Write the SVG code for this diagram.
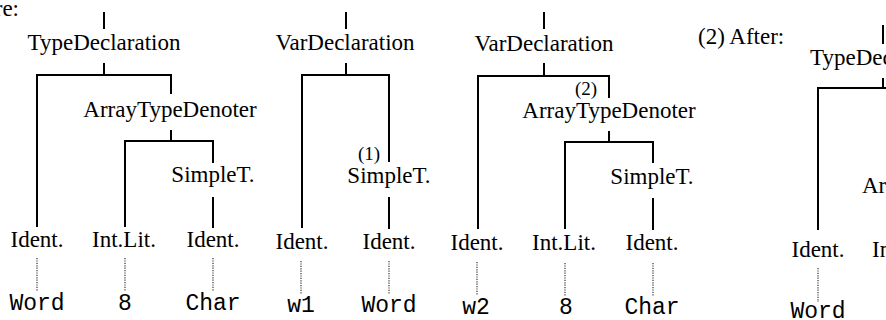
<svg xmlns="http://www.w3.org/2000/svg" width="886" height="320" viewBox="0 0 886 320">
<style>
text { fill: #000; }
.s { font-family: "Liberation Serif", "Times New Roman", serif; font-size: 23px; text-anchor: middle; }
.sl { font-family: "Liberation Serif", "Times New Roman", serif; font-size: 23px; }
.n { font-family: "Liberation Serif", "Times New Roman", serif; font-size: 19px; text-anchor: middle; }
.m { font-family: "Liberation Mono", "Courier New", monospace; font-size: 23px; text-anchor: middle; }
.ml { font-family: "Liberation Mono", "Courier New", monospace; font-size: 23px; }
.c { fill: none; stroke: #000; stroke-width: 2; }
.d { fill: none; stroke: #333; stroke-width: 1.2; stroke-dasharray: 1.2 1.2; }
</style>
<rect width="886" height="320" fill="#fff"/>
<g id="connectors">
  <!-- tree 1 -->
  <path class="c" d="M104 12V29M104 63V75M37 227V75H171V94M171 130V141M125 227V141H213V163M213 197V228"/>
  <path class="d" d="M37 258V291M125 258V291M213 258V291"/>
  <!-- tree 2 -->
  <path class="c" d="M346 12V29M346 63V75M302 228V75H389V162M389 197V229"/>
  <path class="d" d="M301 261V294M389 261V294"/>
  <!-- tree 3 -->
  <path class="c" d="M544 12V29M544 63V76M478 229V76H609V98M609 131V142M565 229V142H653V163M653 198V230"/>
  <path class="d" d="M477 262V295M565 263V296M653 263V296"/>
  <!-- after tree -->
  <path class="c" d="M883 25V44M883 78V88M818 230V88H890"/>
  <path class="d" d="M818 268V302"/>
</g>
<g id="label-before"><text class="s" x="19" y="16" text-anchor="end" style="text-anchor:end">re:</text></g>
<g id="typedecl1"><text class="s" x="104" y="50">TypeDeclaration</text></g>
<g id="arraytd1"><text class="s" x="170" y="117">ArrayTypeDenoter</text></g>
<g id="simplet1"><text class="s" x="213" y="182">SimpleT.</text></g>
<g id="ident1"><text class="s" x="37" y="247">Ident.</text></g>
<g id="intlit1"><text class="s" x="124" y="247">Int.Lit.</text></g>
<g id="ident2"><text class="s" x="213" y="247">Ident.</text></g>
<g id="word1"><text class="m" x="37" y="310">Word</text></g>
<g id="eight1"><text class="m" x="125" y="310">8</text></g>
<g id="char1"><text class="m" x="213" y="310">Char</text></g>

<g id="vardecl1"><text class="s" x="345" y="50">VarDeclaration</text></g>
<g id="mark1"><text class="n" x="369" y="160">(1)</text></g>
<g id="simplet2"><text class="s" x="389" y="183">SimpleT.</text></g>
<g id="ident3"><text class="s" x="302" y="249">Ident.</text></g>
<g id="ident4"><text class="s" x="389" y="249">Ident.</text></g>
<g id="w1"><text class="m" x="301" y="312">w1</text></g>
<g id="word2"><text class="m" x="389" y="312">Word</text></g>

<g id="vardecl2"><text class="s" x="544" y="51">VarDeclaration</text></g>
<g id="mark2"><text class="n" x="586" y="95">(2)</text></g>
<g id="arraytd2"><text class="s" x="609" y="118">ArrayTypeDenoter</text></g>
<g id="simplet3"><text class="s" x="652" y="184">SimpleT.</text></g>
<g id="ident5"><text class="s" x="477" y="250">Ident.</text></g>
<g id="intlit2"><text class="s" x="564" y="250">Int.Lit.</text></g>
<g id="ident6"><text class="s" x="652" y="250">Ident.</text></g>
<g id="w2"><text class="m" x="476" y="314">w2</text></g>
<g id="eight2"><text class="m" x="566" y="314">8</text></g>
<g id="char2"><text class="m" x="652" y="314">Char</text></g>

<g id="label-after"><text class="sl" x="698" y="44">(2) After:</text></g>
<g id="typedecl2"><text class="sl" x="810" y="65">TypeDec</text></g>
<g id="arraytd3"><text class="sl" x="862" y="193">Ar</text></g>
<g id="ident7"><text class="s" x="818" y="257">Ident.</text></g>
<g id="intlit3"><text class="sl" x="872" y="257">In</text></g>
<g id="word3"><text class="m" x="818" y="318">Word</text></g>
</svg>
